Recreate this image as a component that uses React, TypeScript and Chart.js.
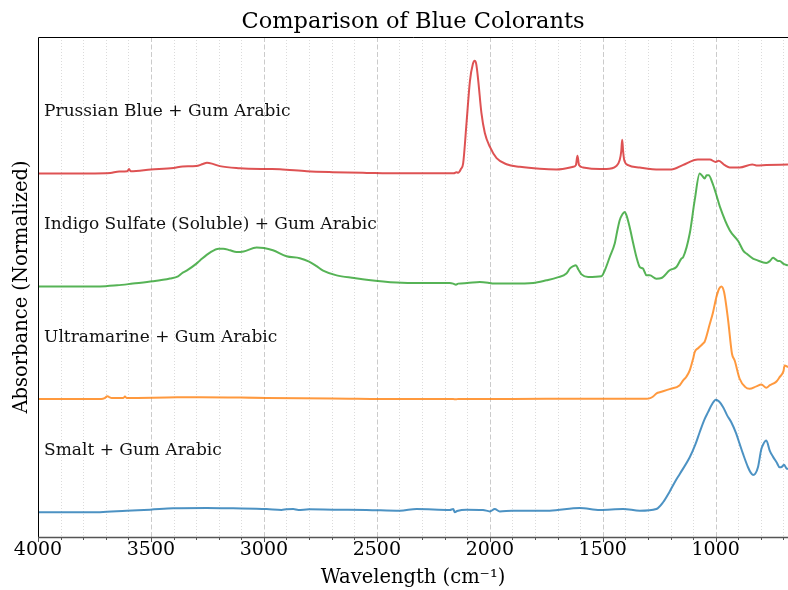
import React, { useEffect, useRef } from 'react';
import { Chart, registerables } from 'chart.js';

Chart.register(...registerables);

// ---- data (wavenumber cm-1, normalized absorbance) ----
const smaltWn = [4000, 3800, 3726, 3608, 3504, 3401, 3254, 3136, 2988, 2922, 2900, 2870, 2848, 2800, 2693, 2546, 2398, 2324, 2177, 2162, 2155, 2145, 2103, 2030, 2000, 1978, 1956, 1900, 1735, 1602, 1513, 1410, 1336, 1263, 1233, 1204, 1180, 1159, 1115, 1090, 1071, 1050, 1034, 1015, 1000, 985, 967, 950, 931, 910, 894, 879, 857, 845, 835, 825, 813, 798, 790, 776, 760, 746, 730, 717, 708, 698, 687, 680];
const smaltAbs = [0.0, 0.0, 0.0, 0.013, 0.022, 0.034, 0.037, 0.034, 0.028, 0.02, 0.026, 0.028, 0.02, 0.025, 0.022, 0.02, 0.013, 0.028, 0.02, 0.028, 0.0, 0.01, 0.022, 0.02, 0.007, 0.028, 0.007, 0.012, 0.013, 0.037, 0.02, 0.028, 0.013, 0.028, 0.088, 0.182, 0.27, 0.339, 0.486, 0.6, 0.708, 0.82, 0.886, 0.96, 0.996, 0.98, 0.93, 0.86, 0.797, 0.7, 0.605, 0.516, 0.398, 0.35, 0.33, 0.34, 0.398, 0.56, 0.6, 0.634, 0.54, 0.49, 0.44, 0.398, 0.4, 0.421, 0.389, 0.38];

const ultramarineWn = [4000, 3720, 3705, 3693, 3685, 3674, 3622, 3615, 3608, 3430, 3283, 2988, 2700, 2398, 2162, 2150, 2140, 1900, 1602, 1500, 1307, 1290, 1277, 1260, 1248, 1204, 1159, 1145, 1130, 1115, 1100, 1093, 1078, 1071, 1056, 1049, 1026, 1012, 997, 985, 975, 963, 945, 928, 916, 894, 870, 850, 820, 798, 776, 760, 746, 730, 717, 700, 695, 680];
const ultramarineAbs = [0.002, 0.002, 0.01, 0.028, 0.02, 0.012, 0.012, 0.025, 0.012, 0.016, 0.019, 0.012, 0.008, 0.002, 0.002, 0.0, 0.003, 0.003, 0.006, 0.004, 0.004, 0.01, 0.025, 0.055, 0.063, 0.09, 0.125, 0.165, 0.2, 0.256, 0.36, 0.418, 0.453, 0.465, 0.495, 0.51, 0.67, 0.77, 0.906, 0.98, 1.0, 0.95, 0.7, 0.404, 0.344, 0.182, 0.11, 0.093, 0.115, 0.131, 0.102, 0.125, 0.138, 0.16, 0.196, 0.25, 0.3, 0.285];

const indigoWn = [4000, 3726, 3650, 3580, 3491, 3416, 3380, 3364, 3342, 3300, 3283, 3239, 3200, 3180, 3150, 3121, 3090, 3032, 3000, 2960, 2900, 2841, 2800, 2767, 2738, 2678, 2600, 2546, 2413, 2300, 2177, 2162, 2150, 2140, 2100, 2044, 2000, 1985, 1900, 1808, 1749, 1700, 1661, 1645, 1630, 1619, 1608, 1594, 1565, 1506, 1491, 1469, 1447, 1435, 1425, 1413, 1403, 1395, 1381, 1365, 1351, 1336, 1322, 1315, 1307, 1292, 1263, 1240, 1204, 1174, 1152, 1144, 1115, 1093, 1071, 1060, 1049, 1040, 1031, 1015, 1000, 982, 938, 900, 879, 864, 835, 820, 776, 760, 746, 735, 724, 717, 700, 680];
const indigoAbs = [0, 0, 0.01, 0.025, 0.045, 0.07, 0.09, 0.115, 0.14, 0.2, 0.23, 0.3, 0.335, 0.335, 0.32, 0.305, 0.31, 0.344, 0.34, 0.32, 0.267, 0.25, 0.22, 0.18, 0.14, 0.098, 0.075, 0.06, 0.035, 0.03, 0.03, 0.025, 0.016, 0.025, 0.03, 0.039, 0.03, 0.025, 0.025, 0.03, 0.054, 0.08, 0.114, 0.16, 0.18, 0.187, 0.15, 0.107, 0.083, 0.09, 0.143, 0.261, 0.38, 0.5, 0.587, 0.64, 0.66, 0.63, 0.527, 0.38, 0.261, 0.172, 0.158, 0.13, 0.098, 0.098, 0.069, 0.075, 0.143, 0.172, 0.247, 0.26, 0.469, 0.764, 1.0, 0.98, 0.957, 0.985, 0.986, 0.92, 0.83, 0.71, 0.498, 0.4, 0.32, 0.291, 0.247, 0.235, 0.208, 0.225, 0.254, 0.24, 0.225, 0.225, 0.2, 0.187];

const prussianWn = [4000, 3800, 3700, 3680, 3640, 3605, 3597, 3590, 3500, 3400, 3360, 3300, 3270, 3252, 3230, 3195, 3106, 2987, 2929, 2810, 2695, 2544, 2400, 2200, 2160, 2155, 2148, 2140, 2128, 2118, 2103, 2088, 2075, 2067, 2060, 2051, 2037, 2022, 2000, 1970, 1926, 1867, 1779, 1705, 1631, 1619, 1612, 1605, 1587, 1513, 1484, 1440, 1425, 1418, 1414, 1410, 1405, 1388, 1336, 1250, 1196, 1146, 1079, 1026, 1000, 987, 960, 938, 894, 838, 820, 776, 680];
const prussianAbs = [0, 0, 0.003, 0.005, 0.018, 0.02, 0.04, 0.02, 0.035, 0.05, 0.063, 0.066, 0.085, 0.095, 0.088, 0.066, 0.048, 0.04, 0.038, 0.02, 0.012, 0.006, 0.002, 0.002, 0.003, 0.005, 0.012, 0.008, 0.04, 0.09, 0.45, 0.82, 0.97, 1.0, 0.97, 0.82, 0.535, 0.36, 0.238, 0.137, 0.083, 0.06, 0.042, 0.036, 0.06, 0.075, 0.157, 0.075, 0.054, 0.04, 0.04, 0.066, 0.12, 0.2, 0.3, 0.2, 0.12, 0.075, 0.054, 0.036, 0.036, 0.075, 0.125, 0.125, 0.102, 0.113, 0.075, 0.054, 0.054, 0.081, 0.072, 0.075, 0.081];

const seriesLabels = ['Smalt + Gum Arabic', 'Ultramarine + Gum Arabic', 'Indigo Sulfate (Soluble) + Gum Arabic', 'Prussian Blue + Gum Arabic'];
const seriesOffsets = [0, 1, 2, 3];
const seriesColors = ['rgba(31,119,180,0.8)', 'rgba(255,127,14,0.8)', 'rgba(44,160,44,0.8)', 'rgba(214,39,40,0.8)'];
const xTickValues = [700, 800, 900, 1000, 1100, 1200, 1300, 1400, 1500, 1600, 1700, 1800, 1900, 2000, 2100, 2200, 2300, 2400, 2500, 2600, 2700, 2800, 2900, 3000, 3100, 3200, 3300, 3400, 3500, 3600, 3700, 3800, 3900, 4000];
const labelOffset = 0.55;
const labelWn = 3973;

const SERIF = '"DejaVu Serif", serif';

const decorPlugin = {
  id: 'decor',
  beforeDatasetsDraw(chart: any) {
    const { ctx, chartArea } = chart;
    const xs = chart.scales.x;
    ctx.save();
    for (const v of xTickValues) {
      const px = Math.round(xs.getPixelForValue(v)) + 0.5;
      if (px <= chartArea.left + 1 || px >= chartArea.right) continue;
      ctx.beginPath();
      if (v % 500 === 0) {
        ctx.strokeStyle = 'rgba(190,190,190,0.8)';
        ctx.lineWidth = 1;
        ctx.setLineDash([5, 2.5]);
      } else {
        ctx.strokeStyle = 'rgba(200,200,200,0.65)';
        ctx.lineWidth = 1;
        ctx.setLineDash([1, 2]);
      }
      ctx.moveTo(px, chartArea.top);
      ctx.lineTo(px, chartArea.bottom);
      ctx.stroke();
    }
    ctx.restore();
  },
  afterDatasetsDraw(chart: any) {
    const { ctx, chartArea } = chart;
    const xs = chart.scales.x;
    const ys = chart.scales.y;
    ctx.save();
    ctx.setLineDash([]);
    // spines
    ctx.strokeStyle = '#000';
    ctx.lineWidth = 1;
    ctx.beginPath();
    ctx.moveTo(chartArea.left + 0.5, chartArea.bottom);
    ctx.lineTo(chartArea.left + 0.5, chartArea.top + 0.5);
    ctx.lineTo(chartArea.right, chartArea.top + 0.5);
    ctx.stroke();
    ctx.strokeStyle = '#555';
    ctx.lineWidth = 1.3;
    ctx.beginPath();
    ctx.moveTo(chartArea.left, chartArea.bottom + 0.5);
    ctx.lineTo(chartArea.right, chartArea.bottom + 0.5);
    ctx.stroke();
    // ticks
    ctx.lineWidth = 1;
    for (const v of xTickValues) {
      const px = Math.round(xs.getPixelForValue(v)) + 0.5;
      const len = v % 500 === 0 ? 5 : 3;
      ctx.beginPath();
      ctx.moveTo(px, chartArea.bottom);
      ctx.lineTo(px, chartArea.bottom + len);
      ctx.stroke();
    }
    // series labels
    ctx.fillStyle = '#111';
    ctx.font = '17px ' + SERIF;
    ctx.textAlign = 'left';
    ctx.textBaseline = 'middle';
    seriesLabels.forEach((t, i) => {
      ctx.fillText(t, xs.getPixelForValue(labelWn), ys.getPixelForValue(seriesOffsets[i] + labelOffset));
    });
    ctx.restore();
  },
};

export default function App() {
  const ref = useRef<HTMLCanvasElement | null>(null);
  useEffect(() => {
    const series = [
      { wn: smaltWn, abs: smaltAbs },
      { wn: ultramarineWn, abs: ultramarineAbs },
      { wn: indigoWn, abs: indigoAbs },
      { wn: prussianWn, abs: prussianAbs },
    ];
    const chart = new Chart(ref.current as HTMLCanvasElement, {
      type: 'line',
      data: {
        datasets: series.map((s, i) => ({
          label: seriesLabels[i],
          data: s.wn.map((w, j) => ({ x: w, y: s.abs[j] + seriesOffsets[i] })),
          borderColor: seriesColors[i],
          borderWidth: 2,
          pointRadius: 0,
          fill: false,
          cubicInterpolationMode: 'monotone' as const,
        })),
      },
      options: {
        responsive: false,
        animation: false,
        devicePixelRatio: 1,
        layout: { padding: 0 },
        plugins: {
          legend: { display: false },
          tooltip: { enabled: false },
          title: {
            display: true,
            text: 'Comparison of Blue Colorants',
            color: '#000',
            fullSize: false,
            font: { family: SERIF, size: 22.5, weight: 'normal' },
            padding: { top: 9, bottom: 1 },
          },
        },
        scales: {
          x: {
            type: 'linear',
            reverse: true,
            min: 680,
            max: 4000,
            afterBuildTicks: (scale: any) => {
              scale.ticks = xTickValues.map((v) => ({ value: v }));
            },
            afterFit: (scale: any) => {
              scale.height = 53;
            },
            ticks: {
              autoSkip: false,
              maxRotation: 0,
              padding: 0,
              color: '#000',
              font: { family: SERIF, size: 19 },
              callback: (v: any) => (Number(v) % 500 === 0 ? String(v) : ''),
            },
            grid: { display: true, drawOnChartArea: false, drawTicks: true, tickLength: 2, color: 'rgba(0,0,0,0)' },
            border: { display: false },
            title: {
              display: true,
              text: 'Wavelength (cm⁻¹)',
              color: '#000',
              font: { family: SERIF, size: 19.5 },
              padding: { top: 2, bottom: 0 },
            },
          },
          y: {
            type: 'linear',
            min: -0.22,
            max: 4.21,
            afterFit: (scale: any) => {
              scale.width = 38;
            },
            ticks: { display: false },
            grid: { display: false },
            border: { display: false },
            title: {
              display: true,
              text: 'Absorbance (Normalized)',
              color: '#000',
              font: { family: SERIF, size: 19.5 },
              padding: { top: 10, bottom: 0 },
            },
          },
        },
      },
      plugins: [decorPlugin],
    } as any);
    return () => chart.destroy();
  }, []);
  return (
    <div style={{ position: 'fixed', left: 0, top: 0, width: 788, height: 590, background: '#fff' }}>
      <canvas ref={ref} width={788} height={590} />
    </div>
  );
}
